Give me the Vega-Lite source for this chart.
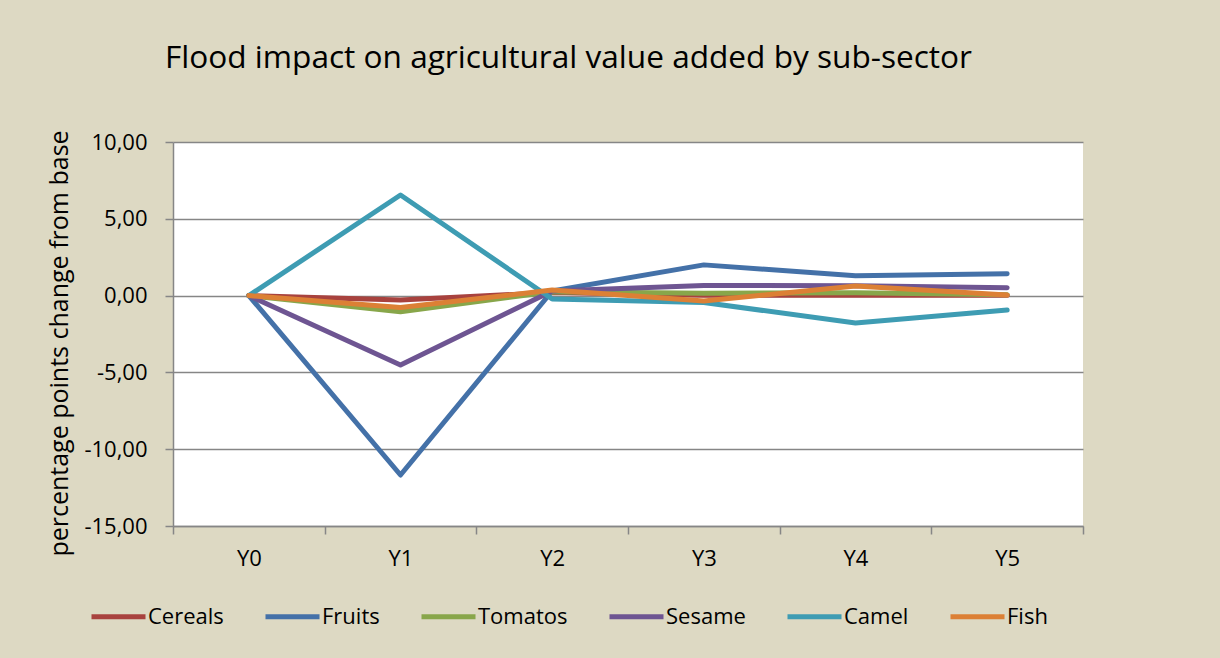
{
  "$schema": "https://vega.github.io/schema/vega-lite/v6.json",
  "width": 910,
  "height": 384,
  "autosize": "none",
  "padding": {"left": 173, "top": 142, "right": 137, "bottom": 132},
  "background": "#DDD9C3",
  "title": {
    "text": "Flood impact on agricultural value added by sub-sector",
    "font": "Open Sans",
    "fontSize": 31.6,
    "fontWeight": "normal",
    "color": "#000000",
    "anchor": "start",
    "frame": "group",
    "baseline": "alphabetic",
    "dx": -8,
    "offset": 30
  },
  "config": {
    "view": {"fill": "#FFFFFF", "stroke": null},
    "font": "Open Sans"
  },
  "data": {
    "values": [
      {"year": "Y0", "series": "Cereals", "value": 0},
      {"year": "Y1", "series": "Cereals", "value": -0.28},
      {"year": "Y2", "series": "Cereals", "value": 0.2},
      {"year": "Y3", "series": "Cereals", "value": 0.02},
      {"year": "Y4", "series": "Cereals", "value": 0.02},
      {"year": "Y5", "series": "Cereals", "value": 0.02},
      {"year": "Y0", "series": "Fruits", "value": 0},
      {"year": "Y1", "series": "Fruits", "value": -11.68},
      {"year": "Y2", "series": "Fruits", "value": 0.3},
      {"year": "Y3", "series": "Fruits", "value": 2.0},
      {"year": "Y4", "series": "Fruits", "value": 1.3},
      {"year": "Y5", "series": "Fruits", "value": 1.42},
      {"year": "Y0", "series": "Tomatos", "value": 0},
      {"year": "Y1", "series": "Tomatos", "value": -1.05},
      {"year": "Y2", "series": "Tomatos", "value": 0.25},
      {"year": "Y3", "series": "Tomatos", "value": 0.15},
      {"year": "Y4", "series": "Tomatos", "value": 0.18},
      {"year": "Y5", "series": "Tomatos", "value": 0.05},
      {"year": "Y0", "series": "Sesame", "value": 0},
      {"year": "Y1", "series": "Sesame", "value": -4.52},
      {"year": "Y2", "series": "Sesame", "value": 0.3},
      {"year": "Y3", "series": "Sesame", "value": 0.66},
      {"year": "Y4", "series": "Sesame", "value": 0.64},
      {"year": "Y5", "series": "Sesame", "value": 0.51},
      {"year": "Y0", "series": "Camel", "value": 0},
      {"year": "Y1", "series": "Camel", "value": 6.55},
      {"year": "Y2", "series": "Camel", "value": -0.22},
      {"year": "Y3", "series": "Camel", "value": -0.45},
      {"year": "Y4", "series": "Camel", "value": -1.78},
      {"year": "Y5", "series": "Camel", "value": -0.94},
      {"year": "Y0", "series": "Fish", "value": 0},
      {"year": "Y1", "series": "Fish", "value": -0.78},
      {"year": "Y2", "series": "Fish", "value": 0.36},
      {"year": "Y3", "series": "Fish", "value": -0.35},
      {"year": "Y4", "series": "Fish", "value": 0.62},
      {"year": "Y5", "series": "Fish", "value": 0.04}
    ]
  },
  "mark": {"type": "line", "strokeWidth": 5, "strokeCap": "round", "strokeJoin": "round"},
  "encoding": {
    "x": {
      "field": "year",
      "type": "nominal",
      "bandPosition": 0.5,
      "scale": {"type": "band", "paddingInner": 0, "paddingOuter": 0},
      "axis": {
        "title": null,
        "labelAngle": 0,
        "tickBand": "extent",
        "domainColor": "#868686",
        "domainWidth": 1.5,
        "tickColor": "#868686",
        "tickWidth": 1.5,
        "tickSize": 8,
        "labelPadding": 14,
        "labelFont": "Open Sans",
        "labelFontSize": 22,
        "labelColor": "#000000",
        "grid": false
      }
    },
    "y": {
      "field": "value",
      "type": "quantitative",
      "scale": {"domain": [-15, 10], "nice": false, "zero": false},
      "axis": {
        "values": [-15, -10, -5, 0, 5, 10],
        "labelExpr": "replace(replace(format(datum.value, '.2f'), '.', ','), '\u2212', '-')",
        "title": "percentage points change from base",
        "titleFont": "Open Sans",
        "titleFontSize": 25,
        "titleFontWeight": "normal",
        "titleColor": "#000000",
        "titleAngle": -90,
        "titleBaseline": "alphabetic",
        "titleAnchor": "middle",
        "titleX": -106,
        "titleY": 201,
        "domainColor": "#868686",
        "domainWidth": 1.5,
        "tickColor": "#868686",
        "tickWidth": 1.5,
        "tickSize": 8,
        "labelPadding": 18,
        "labelFont": "Open Sans",
        "labelFontSize": 22,
        "labelColor": "#000000",
        "grid": true,
        "gridColor": "#868686",
        "gridWidth": 1.5
      }
    },
    "color": {
      "field": "series",
      "type": "nominal",
      "sort": ["Cereals", "Fruits", "Tomatos", "Sesame", "Camel", "Fish"],
      "scale": {
        "domain": ["Cereals", "Fruits", "Tomatos", "Sesame", "Camel", "Fish"],
        "range": ["#A8423E", "#4471A8", "#88A64A", "#6E5592", "#3E9CB3", "#DC8035"]
      },
      "legend": {
        "title": null,
        "orient": "none",
        "direction": "horizontal",
        "legendX": -84,
        "legendY": 445,
        "symbolType": "stroke",
        "symbolSize": 2916,
        "symbolStrokeWidth": 5,
        "labelOffset": 0,
        "labelFont": "Open Sans",
        "labelFontSize": 22,
        "labelColor": "#000000",
        "columnPadding": 31
      }
    }
  }
}
